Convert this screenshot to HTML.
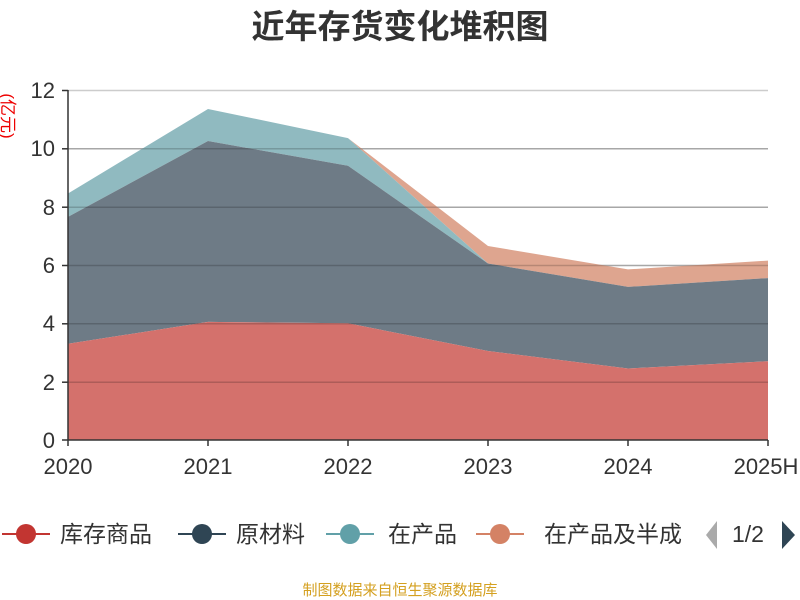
<!DOCTYPE html>
<html><head><meta charset="utf-8"><style>
body{margin:0;background:#fff;}
svg{display:block;font-family:"Liberation Sans","Noto Sans CJK SC",sans-serif;}
</style></head><body>
<svg width="800" height="600" viewBox="0 0 800 600">
<rect width="800" height="600" fill="#fff"/>
<text x="400" y="38" text-anchor="middle" font-size="33" font-weight="bold" fill="#333">近年存货变化堆积图</text>
<text transform="translate(2,116) rotate(90)" text-anchor="middle" font-size="17" fill="#e00">(亿元)</text>
<g stroke="#ccc" stroke-width="1.5">
<line x1="68" y1="90.5" x2="768" y2="90.5"/>
<line x1="68" y1="148.8" x2="768" y2="148.8"/>
<line x1="68" y1="207.2" x2="768" y2="207.2"/>
<line x1="68" y1="265.5" x2="768" y2="265.5"/>
<line x1="68" y1="323.8" x2="768" y2="323.8"/>
<line x1="68" y1="382.2" x2="768" y2="382.2"/>
</g>
<polygon fill="#dea58f" points="68,193.5 208,109 348,138.1 488,246 628,269.4 768,260.6 768,278.1 628,286.9 488,263.5 348,138.1 208,109 68,193.5"/>
<polygon fill="#90bac0" points="68,193.5 208,109 348,138.1 488,263.5 628,286.9 768,278.1 768,278.1 628,286.9 488,263.5 348,165.8 208,141 68,216.9"/>
<polygon fill="#6e7b86" points="68,216.9 208,141 348,165.8 488,263.5 628,286.9 768,278.1 768,361.2 628,368.5 488,351 348,323.3 208,321.9 68,343.8"/>
<polygon fill="#d4716c" points="68,343.8 208,321.9 348,323.3 488,351 628,368.5 768,361.2 768,440 68,440"/>
<g stroke="rgba(0,0,0,0.18)" stroke-width="1.5">
<line x1="68" y1="148.8" x2="768" y2="148.8"/>
<line x1="68" y1="207.2" x2="768" y2="207.2"/>
<line x1="68" y1="265.5" x2="768" y2="265.5"/>
<line x1="68" y1="323.8" x2="768" y2="323.8"/>
<line x1="68" y1="382.2" x2="768" y2="382.2"/>
</g>
<g stroke="#333" stroke-width="1.5">
<line x1="68" y1="90" x2="68" y2="440"/>
<line x1="68" y1="440" x2="768" y2="440"/>
<line x1="62" y1="90.5" x2="68" y2="90.5"/><line x1="62" y1="148.8" x2="68" y2="148.8"/>
<line x1="62" y1="207.2" x2="68" y2="207.2"/><line x1="62" y1="265.5" x2="68" y2="265.5"/>
<line x1="62" y1="323.8" x2="68" y2="323.8"/><line x1="62" y1="382.2" x2="68" y2="382.2"/>
<line x1="62" y1="440" x2="68" y2="440"/>
<line x1="68" y1="440" x2="68" y2="446"/><line x1="208" y1="440" x2="208" y2="446"/>
<line x1="348" y1="440" x2="348" y2="446"/><line x1="488" y1="440" x2="488" y2="446"/>
<line x1="628" y1="440" x2="628" y2="446"/><line x1="768" y1="440" x2="768" y2="446"/>
</g>
<g font-size="22" fill="#333" text-anchor="end">
<text x="55" y="98">12</text><text x="55" y="156">10</text><text x="55" y="215">8</text>
<text x="55" y="273">6</text><text x="55" y="331">4</text><text x="55" y="390">2</text><text x="55" y="448">0</text>
</g>
<g font-size="22" fill="#333" text-anchor="middle">
<text x="68" y="474">2020</text><text x="208" y="474">2021</text><text x="348" y="474">2022</text>
<text x="488" y="474">2023</text><text x="628" y="474">2024</text><text x="766" y="474">2025H</text>
</g>
<g font-size="23" fill="#333">
<line x1="2" y1="534" x2="50" y2="534" stroke="#c23531" stroke-width="2"/><circle cx="26" cy="534" r="10" fill="#c23531"/>
<text x="60" y="542">库存商品</text>
<line x1="178" y1="534" x2="226" y2="534" stroke="#2f4554" stroke-width="2"/><circle cx="202" cy="534" r="10" fill="#2f4554"/>
<text x="236" y="542">原材料</text>
<line x1="326" y1="534" x2="374" y2="534" stroke="#61a0a8" stroke-width="2"/><circle cx="350" cy="534" r="10" fill="#61a0a8"/>
<text x="388" y="542">在产品</text>
<line x1="476" y1="534" x2="524" y2="534" stroke="#d48265" stroke-width="2"/><circle cx="500" cy="534" r="10" fill="#d48265"/>
<text x="544" y="542">在产品及半成</text>
<rect x="682" y="515" width="22" height="36" fill="#fff"/>
<polygon points="717,521 717,549 706,535" fill="#aaa"/>
<text x="732" y="542">1/2</text>
<polygon points="782,521 782,549 795,535" fill="#2f4554"/>
</g>
<text x="400" y="595" text-anchor="middle" font-size="15" fill="#d4a020">制图数据来自恒生聚源数据库</text>
</svg>
</body></html>
